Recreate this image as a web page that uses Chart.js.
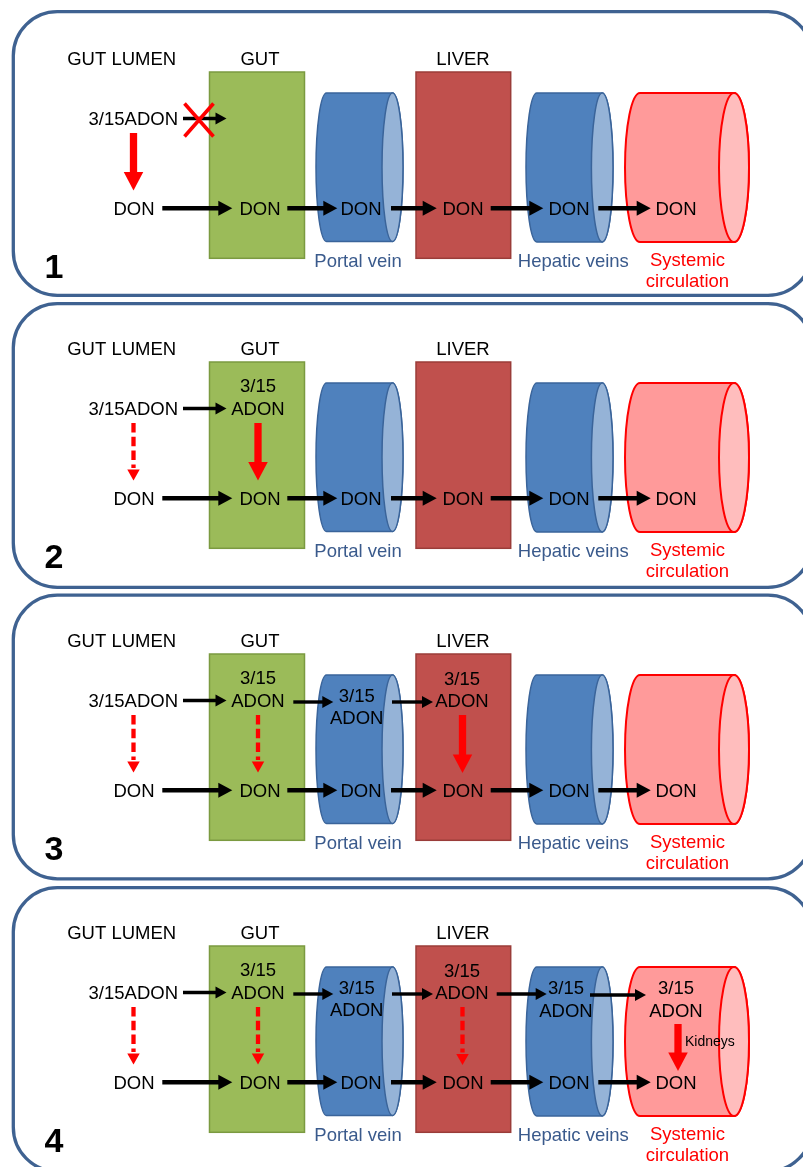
<!DOCTYPE html>
<html>
<head>
<meta charset="utf-8">
<script src="https://cdn.jsdelivr.net/npm/chart.js@4/dist/chart.umd.min.js"></script>
<style>
  html, body { margin: 0; padding: 0; background: #ffffff; }
  #wrap { width: 803px; height: 1167px; }
</style>
</head>
<body>
<div id="wrap"><canvas id="c" width="803" height="1167"></canvas></div>
<script>
// ---------- DATA (content of the diagram) ----------
const panelNumbers = ['1', '2', '3', '4'];
const headerLabels = ['GUT LUMEN', 'GUT', 'LIVER'];
const compartments = ['lumen', 'gut', 'portal', 'liver', 'hepatic', 'systemic'];
const vesselLabels = ['Portal vein', 'Hepatic veins'];
const systemicLabel = ['Systemic', 'circulation'];
const adonName = '3/15ADON';
const adonSplit = ['3/15', 'ADON'];
const donName = 'DON';
const kidneyLabel = 'Kidneys';
// furthest compartment (index) reached by 3/15ADON in each panel
const adonReach = [0, 1, 3, 5];
// entry into the gut blocked (red cross) per panel
const blockedEntry = [true, false, false, false];
// main (solid red) deacetylation site per panel
const solidConversion = ['lumen', 'gut', 'liver', 'systemic'];
// minor (dashed red) deacetylation sites per panel
const dashedConversion = [[], ['lumen'], ['lumen', 'gut'], ['lumen', 'gut', 'liver']];

// ---------- LAYOUT (geometry, styles) ----------
const L = {
  font: '"Liberation Sans", Arial, sans-serif',
  fs: 18.5,
  contentOff: [0, 290, 582, 874],
  borderOff: [0, 292, 583.5, 876],
  border: { left: 13.3, right: 812, top: 11.7, bottom: 295.3, r: 44, w: 3.3, color: '#3f6291' },
  headerX: [121.7, 260, 463], headerY: 58,
  gutBox: { l: 209.5, r: 304.5, t: 72, b: 258.3, fill: '#9bbb59', stroke: '#7b9a40' },
  liverBox: { l: 416, r: 510.7, t: 72, b: 258.3, fill: '#c0504d', stroke: '#9a3c39' },
  cyl: {
    portal: { l: 316, r: 403, rx: 10.5, t: 93, b: 241.5, fill: '#4f81bd', face: '#95b3d7', stroke: '#3a649a', lw: 1.5 },
    hepatic: { l: 526, r: 613, rx: 10.8, t: 93, b: 242, fill: '#4f81bd', face: '#95b3d7', stroke: '#3a649a', lw: 1.5 },
    systemic: { l: 625, r: 749, rx: 15, t: 93, b: 242, fill: '#ff9a9a', face: '#ffbdbd', stroke: '#ff0000', lw: 2 }
  },
  donX: { lumen: 134, gut: 260, portal: 361, liver: 463, hepatic: 569, systemic: 676 },
  donY: 208.3,
  adonPos: {
    lumen: { x: 133.3, y1: null, y2: 118.3 },
    gut: { x: 258, y1: 95.3, y2: 118.3 },
    portal: { x: 356.7, y1: 113.3, y2: 135 },
    liver: { x: 462, y1: 96, y2: 118.7 },
    hepatic: { x: 566, y1: 113.7, y2: 136 },
    systemic: { x: 676, y1: 113.7, y2: 136 }
  },
  donArrows: [[162.3, 232.3], [287.3, 337.3], [391, 436.7], [490.7, 543.3], [598.3, 650.7]],
  adonArrows: [[183, 226.5, 118.5], [293.3, 333.3, 120], [392, 433, 120], [496.7, 546.7, 120], [590, 646, 121]],
  convArrow: {
    lumen: { x: 133.5, y1: 133, y2: 190.5 },
    gut: { x: 258, y1: 133, y2: 190.5 },
    liver: { x: 462.5, y1: 133, y2: 191 },
    systemic: { x: 678, y1: 150, y2: 197 }
  },
  cross: { cx: 199, cy: 120, w: 29, h: 33, lw: 3.6 },
  vesselLabelX: [358, 573.3], vesselLabelY: 260,
  vesselColor: '#3a5a8c',
  systemicX: 687.5, systemicY: [259.5, 280.3],
  numberX: 44.5, numberBase: 277.5,
  kidneyX: 685, kidneyY: 167
};

const diagramPlugin = {
  id: 'diagram',
  beforeDraw(chart) {
    const c = chart.ctx;
    c.save();
    c.fillStyle = '#ffffff';
    c.fillRect(0, 0, chart.width, chart.height);
    c.restore();
  },
  afterDatasetsDraw(chart) {
    const ctx = chart.ctx;
    const xs = chart.scales.x, ys = chart.scales.y;
    const X = v => xs.getPixelForValue(v);
    const Y = v => ys.getPixelForValue(v);
    const W = v => Math.abs(xs.getPixelForValue(v) - xs.getPixelForValue(0));
    const H = v => Math.abs(ys.getPixelForValue(v) - ys.getPixelForValue(0));

    function text(str, x, yc, opts = {}) {
      const size = opts.size || L.fs;
      ctx.save();
      ctx.font = (opts.bold ? 'bold ' : '') + size + 'px ' + L.font;
      ctx.fillStyle = opts.color || '#000000';
      ctx.textAlign = opts.align || 'center';
      ctx.textBaseline = 'alphabetic';
      const base = opts.baseline != null ? opts.baseline : yc + 0.358 * size;
      ctx.fillText(str, X(x), Y(base));
      ctx.restore();
    }

    function roundRect(l, t, r, b, rad) {
      ctx.beginPath();
      ctx.moveTo(X(l + rad), Y(t));
      ctx.lineTo(X(r - rad), Y(t));
      ctx.arcTo(X(r), Y(t), X(r), Y(t + rad), W(rad));
      ctx.lineTo(X(r), Y(b - rad));
      ctx.arcTo(X(r), Y(b), X(r - rad), Y(b), W(rad));
      ctx.lineTo(X(l + rad), Y(b));
      ctx.arcTo(X(l), Y(b), X(l), Y(b - rad), W(rad));
      ctx.lineTo(X(l), Y(t + rad));
      ctx.arcTo(X(l), Y(t), X(l + rad), Y(t), W(rad));
      ctx.closePath();
    }

    function box(b, off) {
      ctx.save();
      ctx.fillStyle = b.fill;
      ctx.strokeStyle = b.stroke;
      ctx.lineWidth = 1.5;
      ctx.fillRect(X(b.l), Y(b.t + off), W(b.r - b.l), H(b.b - b.t));
      ctx.strokeRect(X(b.l), Y(b.t + off), W(b.r - b.l), H(b.b - b.t));
      ctx.restore();
    }

    function cylinder(cy, off) {
      const t = cy.t + off, b = cy.b + off;
      const mid = (t + b) / 2, ry = (b - t) / 2;
      const c1 = cy.l + cy.rx, c2 = cy.r - cy.rx;
      ctx.save();
      ctx.lineWidth = cy.lw;
      ctx.strokeStyle = cy.stroke;
      ctx.beginPath();
      ctx.moveTo(X(c2), Y(t));
      ctx.lineTo(X(c1), Y(t));
      ctx.ellipse(X(c1), Y(mid), W(cy.rx), H(ry), 0, -Math.PI / 2, Math.PI / 2, true);
      ctx.lineTo(X(c2), Y(b));
      ctx.ellipse(X(c2), Y(mid), W(cy.rx), H(ry), 0, Math.PI / 2, -Math.PI / 2, true);
      ctx.closePath();
      ctx.fillStyle = cy.fill;
      ctx.fill();
      ctx.stroke();
      ctx.beginPath();
      ctx.ellipse(X(c2), Y(mid), W(cy.rx), H(ry), 0, 0, Math.PI * 2);
      ctx.fillStyle = cy.face;
      ctx.fill();
      ctx.stroke();
      ctx.restore();
    }

    function hArrow(x1, x2, y, shaft, headL, headW, color) {
      ctx.save();
      ctx.strokeStyle = color; ctx.fillStyle = color;
      ctx.lineWidth = H(shaft);
      ctx.lineCap = 'butt';
      ctx.beginPath();
      ctx.moveTo(X(x1), Y(y));
      ctx.lineTo(X(x2 - headL + 1), Y(y));
      ctx.stroke();
      ctx.beginPath();
      ctx.moveTo(X(x2), Y(y));
      ctx.lineTo(X(x2 - headL), Y(y - headW / 2));
      ctx.lineTo(X(x2 - headL), Y(y + headW / 2));
      ctx.closePath();
      ctx.fill();
      ctx.restore();
    }

    function vArrow(x, y1, y2, shaft, headL, headW, color, dash) {
      ctx.save();
      ctx.strokeStyle = color; ctx.fillStyle = color;
      ctx.lineWidth = W(shaft);
      ctx.lineCap = 'butt';
      if (dash) ctx.setLineDash(dash.map(d => H(d)));
      ctx.beginPath();
      ctx.moveTo(X(x), Y(y1));
      ctx.lineTo(X(x), Y(y2 - headL + (dash ? -1.5 : 1)));
      ctx.stroke();
      ctx.setLineDash([]);
      ctx.beginPath();
      ctx.moveTo(X(x), Y(y2));
      ctx.lineTo(X(x - headW / 2), Y(y2 - headL));
      ctx.lineTo(X(x + headW / 2), Y(y2 - headL));
      ctx.closePath();
      ctx.fill();
      ctx.restore();
    }

    panelNumbers.forEach((num, p) => {
      const bo = L.borderOff[p], o = L.contentOff[p];
      // panel frame
      ctx.save();
      roundRect(L.border.left, L.border.top + bo, L.border.right, L.border.bottom + bo, L.border.r);
      ctx.lineWidth = L.border.w;
      ctx.strokeStyle = L.border.color;
      ctx.stroke();
      ctx.restore();

      // headers
      headerLabels.forEach((h, i) => text(h, L.headerX[i], L.headerY + o));

      // compartments
      box(L.gutBox, o);
      box(L.liverBox, o);
      cylinder(L.cyl.portal, o);
      cylinder(L.cyl.hepatic, o);
      cylinder(L.cyl.systemic, o);

      // vessel labels
      vesselLabels.forEach((v, i) => text(v, L.vesselLabelX[i], L.vesselLabelY + o, { color: L.vesselColor }));
      systemicLabel.forEach((s, i) => text(s, L.systemicX, L.systemicY[i] + o, { color: '#ff0000' }));

      // DON row
      compartments.forEach(k => text(donName, L.donX[k], L.donY + o));
      L.donArrows.forEach(a => hArrow(a[0], a[1], L.donY + o, 4.6, 14, 15, '#000000'));

      // 3/15ADON row
      const reach = adonReach[p];
      compartments.forEach((k, i) => {
        if (i > reach) return;
        const pos = L.adonPos[k];
        if (k === 'lumen') text(adonName, pos.x, pos.y2 + o);
        else {
          text(adonSplit[0], pos.x, pos.y1 + o);
          text(adonSplit[1], pos.x, pos.y2 + o);
        }
      });
      for (let i = 0; i < Math.max(reach, blockedEntry[p] ? 1 : 0); i++) {
        const a = L.adonArrows[i];
        hArrow(a[0], a[1], a[2] + o, 3.4, 11, 12, '#000000');
      }
      if (blockedEntry[p]) {
        const c = L.cross;
        ctx.save();
        ctx.strokeStyle = '#ff0000';
        ctx.lineWidth = c.lw;
        ctx.beginPath();
        ctx.moveTo(X(c.cx - c.w / 2), Y(c.cy - c.h / 2 + o));
        ctx.lineTo(X(c.cx + c.w / 2), Y(c.cy + c.h / 2 + o));
        ctx.moveTo(X(c.cx + c.w / 2), Y(c.cy - c.h / 2 + o));
        ctx.lineTo(X(c.cx - c.w / 2), Y(c.cy + c.h / 2 + o));
        ctx.stroke();
        ctx.restore();
      }

      // conversion arrows
      dashedConversion[p].forEach(k => {
        const a = L.convArrow[k];
        vArrow(a.x, a.y1 + o, a.y2 + o, 4.3, 11, 12.5, '#ff0000', [9.5, 4.3]);
      });
      const s = L.convArrow[solidConversion[p]];
      vArrow(s.x, s.y1 + o, s.y2 + o, 7.3, 18.5, 19.5, '#ff0000', null);
      if (solidConversion[p] === 'systemic') {
        text(kidneyLabel, L.kidneyX, L.kidneyY + o, { size: 14, align: 'left' });
      }

      // panel number
      text(num, L.numberX, 0, { bold: true, size: 34, align: 'left', baseline: L.numberBase + o });
    });
  }
};

new Chart(document.getElementById('c'), {
  type: 'scatter',
  data: { datasets: [{ data: [], pointRadius: 0 }] },
  options: {
    responsive: false,
    animation: false,
    devicePixelRatio: 1,
    layout: { padding: 0 },
    plugins: { legend: { display: false }, tooltip: { enabled: false } },
    scales: {
      x: { type: 'linear', min: 0, max: 803, display: false },
      y: { type: 'linear', min: 0, max: 1167, reverse: true, display: false }
    }
  },
  plugins: [diagramPlugin]
});
</script>
</body>
</html>
